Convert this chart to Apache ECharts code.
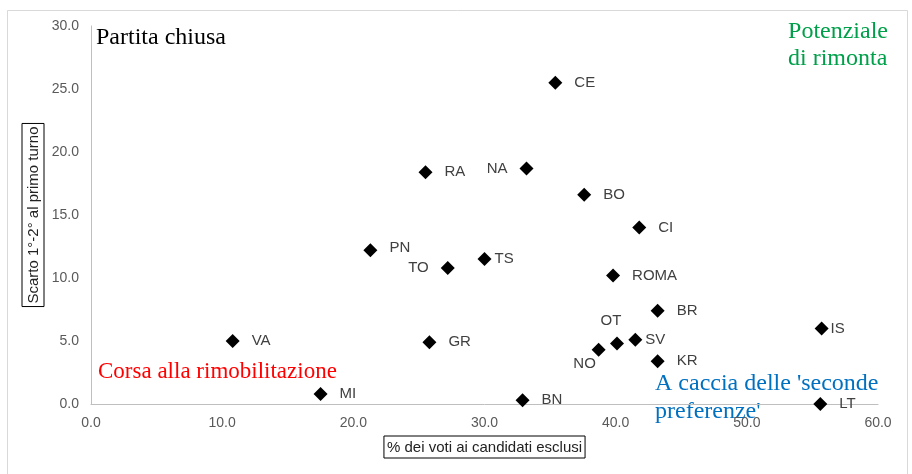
<!DOCTYPE html>
<html>
<head>
    <meta charset="utf-8">
    <title>ECharts</title>
    <script src="https://cdn.jsdelivr.net/npm/echarts@6/dist/echarts.min.js"></script>
    <style>
        body { margin: 0; background: #fff; }
        #main { width: 912px; height: 474px; }
    </style>
</head>
<body>
<div id="main"></div>
<script type="text/javascript">
    // dati
    var cities = ['CE', 'NA', 'RA', 'BO', 'CI', 'PN', 'TS', 'TO', 'ROMA', 'BR', 'VA', 'GR', 'SV', 'OT', 'NO', 'KR', 'IS', 'MI', 'BN', 'LT'];
    var excluded = [35.4, 33.2, 25.5, 37.6, 41.8, 21.3, 30.0, 27.2, 39.8, 43.2, 10.8, 25.8, 41.5, 40.1, 38.7, 43.2, 55.7, 17.5, 32.9, 55.6];
    var gap = [25.5, 18.7, 18.4, 16.6, 14.0, 12.2, 11.5, 10.8, 10.2, 7.4, 5.0, 4.9, 5.1, 4.8, 4.3, 3.4, 6.0, 0.8, 0.3, 0.0];

    // etichette non a destra
    var labelPlace = {
        NA: { position: 'left', distance: 12 },
        TO: { position: 'left', distance: 12 },
        OT: { position: 'top', offset: [-6, -2], distance: 6 },
        NO: { position: 'bottom', offset: [-14, -2], distance: 2 },
        PN: { position: 'right', offset: [0, -2] },
        TS: { position: 'right', distance: 3 },
        SV: { position: 'right', distance: 3 },
        IS: { position: 'right', distance: 2 }
    };

    var points = cities.map(function (c, i) {
        var item = { name: c, value: [excluded[i], gap[i]] };
        if (labelPlace[c]) item.label = labelPlace[c];
        return item;
    });

    var serif = 'Liberation Serif';
    var myChart = echarts.init(document.getElementById('main'));
    var option = {
        backgroundColor: '#fff',
        animation: false,
        grid: { left: 91, right: 34, top: 26, bottom: 70 },
        xAxis: {
            type: 'value',
            min: 0, max: 60, interval: 10,
            name: '% dei voti ai candidati esclusi',
            nameLocation: 'middle',
            nameGap: 32,
            nameMoveOverlap: false,
            nameTextStyle: {
                color: '#222', fontSize: 15, fontFamily: 'Liberation Sans',
                borderColor: '#000', borderWidth: 1, padding: [4, 3, 3, 3]
            },
            axisLine: { lineStyle: { color: '#bfbfbf' } },
            axisTick: { show: false },
            splitLine: { show: false },
            axisLabel: {
                color: '#595959', fontSize: 14, fontFamily: 'Liberation Sans', margin: 12,
                formatter: function (v) { return v.toFixed(1); }
            }
        },
        yAxis: {
            type: 'value',
            min: 0, max: 30, interval: 5,
            name: 'Scarto 1°-2° al primo turno',
            nameLocation: 'middle',
            nameGap: 47,
            nameMoveOverlap: false,
            nameTextStyle: {
                color: '#222', fontSize: 15, fontFamily: 'Liberation Sans',
                borderColor: '#000', borderWidth: 1, padding: [4, 3, 3, 3]
            },
            axisLine: { show: true, lineStyle: { color: '#bfbfbf' } },
            axisTick: { show: false },
            splitLine: { show: false },
            axisLabel: {
                color: '#595959', fontSize: 14, fontFamily: 'Liberation Sans', margin: 12,
                formatter: function (v) { return v.toFixed(1); }
            }
        },
        series: [{
            type: 'scatter',
            symbol: 'diamond',
            symbolSize: 14,
            itemStyle: { color: '#000', opacity: 1 },
            label: {
                show: true,
                position: 'right',
                distance: 12,
                formatter: '{b}',
                color: '#404040',
                fontSize: 15,
                fontFamily: 'Liberation Sans'
            },
            data: points
        }],
        graphic: [
            { type: 'rect', left: 5, top: 8, shape: { width: 900, height: 464 },
              style: { fill: 'none', stroke: '#d9d9d9', lineWidth: 1 }, silent: true },
            { type: 'text', left: 96, top: 26,
              style: { text: 'Partita chiusa', fill: '#000', font: '24px "' + serif + '"' } },
            { type: 'text', right: 24, top: 18,
              style: { text: 'Potenziale\ndi rimonta', fill: '#00a04a', font: '24px "' + serif + '"', lineHeight: 27, align: 'center' } },
            { type: 'text', left: 98, top: 360,
              style: { text: 'Corsa alla rimobilitazione', fill: '#ff0000', font: '23px "' + serif + '"' } },
            { type: 'text', left: 655, top: 370,
              style: { text: "A caccia delle 'seconde\npreferenze'", fill: '#0070c0', font: '24px "' + serif + '"', lineHeight: 28 } }
        ]
    };
    myChart.setOption(option);
</script>
</body>
</html>
